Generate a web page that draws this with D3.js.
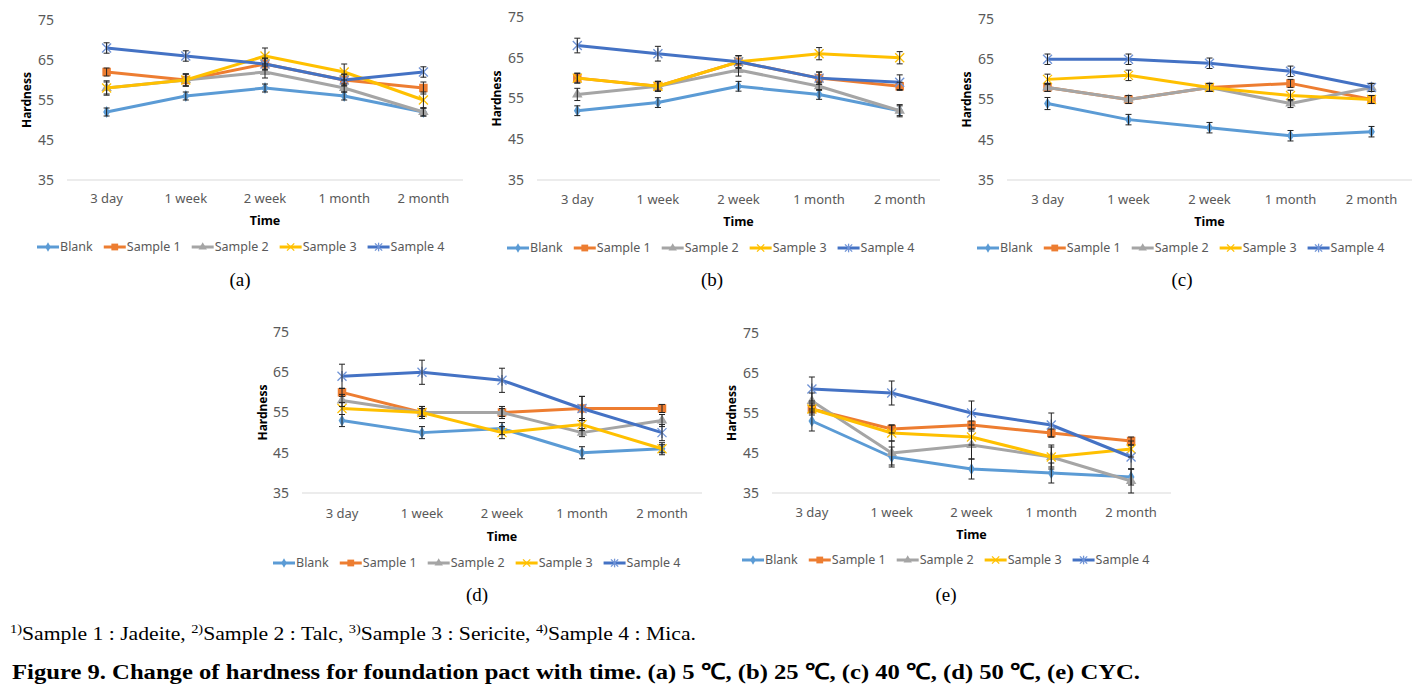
<!DOCTYPE html>
<html><head><meta charset="utf-8">
<script src="https://cdn.jsdelivr.net/npm/d3@7"></script>
<style>body{margin:0;background:#fff}svg{display:block}</style>
</head><body>
<svg id="chart" width="1415" height="690"></svg>
<script>
// ---------- DATA ----------
const categories = ["3 day", "1 week", "2 week", "1 month", "2 month"];
const seriesNames = ["Blank", "Sample 1", "Sample 2", "Sample 3", "Sample 4"];
const yTicks = [35, 45, 55, 65, 75];
const panelLabels = ["(a)", "(b)", "(c)", "(d)", "(e)"];

// (a) 5 ℃
const valuesA = [[52,56,58,56,52],[62,60,64,60,58],[58,60,62,58,52],[58,60,66,62,55],[68,66,64,60,62]];
const errorsA = [[1,1,1,1,1],[1,1.5,1.5,1.5,1.5],[1.5,1.5,1.5,1,1],[1.8,1.5,2,2,2],[1.3,1.3,1.3,1.3,1.3]];
// (b) 25 ℃
const valuesB = [[52,54,58,56,52],[60,58,64,60,58],[56,58,62,58,52],[60,58,64,66,65],[68,66,64,60,59]];
const errorsB = [[1.2,1.2,1.2,1.2,1.2],[1.2,1.2,1.5,1.5,1],[1.5,1.2,1.5,1,1.5],[1.2,1.2,1.5,1.5,1.5],[1.8,1.8,1.5,1.5,1.8]];
// (c) 40 ℃
const valuesC = [[54,50,48,46,47],[58,55,58,59,55],[58,55,58,54,58],[60,61,58,56,55],[65,65,64,62,58]];
const errorsC = [[1.5,1.3,1.3,1.3,1.3],[1,1,1,1,1],[1,1,1,1,1],[1.3,1.3,1,1.3,1],[1.3,1.3,1.3,1.3,1]];
// (d) 50 ℃
const valuesD = [[53,50,51,45,46],[60,55,55,56,56],[58,55,55,50,53],[56,55,50,52,46],[64,65,63,56,50]];
const errorsD = [[1.5,1.5,1.5,1.5,1.5],[1,1,1,3,1],[1.5,1.5,1.5,1,1.5],[1.5,1.5,1.5,1.5,1],[3,3,3,3,2]];
// (e) CYC
const valuesE = [[53,44,41,40,39],[56,51,52,50,48],[58,45,47,44,38],[56,50,49,44,46],[61,60,55,52,44]];
const errorsE = [[2.5,2.5,2.5,2.5,2],[1,1,1,1,1],[2,3,3.5,3,3],[1.5,2,2,2.5,2],[3,3,3,3,3]];

const footnoteParts = [["1)","Sample 1 : Jadeite, "],["2)","Sample 2 : Talc, "],["3)","Sample 3 : Sericite, "],["4)","Sample 4 : Mica."]];
const titleText = "Figure 9. Change of hardness for foundation pact with time. (a) 5 ℃, (b) 25 ℃, (c) 40 ℃, (d) 50 ℃, (e) CYC.";

// ---------- STYLE / LAYOUT ----------
const colors = ["#5B9BD5", "#ED7D31", "#A5A5A5", "#FFC000", "#4472C4"];
const markerTypes = ["diamond", "square", "triangle", "x", "star"];
const FONT = "'Noto Sans', 'Open Sans', sans-serif";
const SERIF = "'Liberation Serif', 'Times New Roman', Times, serif";

const panels = [
  {vals: valuesA, errs: errorsA, x0: 67,  x1: 463,  yT: 20,  yB: 180, ylabX: 27,  catY: 203, timeY: 225, legY: 247, legX: 37,  labX: 240, labY: 286},
  {vals: valuesB, errs: errorsB, x0: 537, x1: 940,  yT: 17,  yB: 180, ylabX: 497, catY: 204, timeY: 226, legY: 248, legX: 507, labX: 712, labY: 286},
  {vals: valuesC, errs: errorsC, x0: 1007,x1: 1412, yT: 19,  yB: 180, ylabX: 967, catY: 204, timeY: 226, legY: 248, legX: 977, labX: 1182,labY: 286},
  {vals: valuesD, errs: errorsD, x0: 302, x1: 702,  yT: 332, yB: 493, ylabX: 263, catY: 518, timeY: 541, legY: 563, legX: 273, labX: 477, labY: 601},
  {vals: valuesE, errs: errorsE, x0: 772, x1: 1171, yT: 333, yB: 493, ylabX: 732, catY: 517, timeY: 539, legY: 560, legX: 742, labX: 946, labY: 601}
];

const svg = d3.select("#chart");

function drawMarker(g, type, color, x, y, s) {
  if (type === "diamond") {
    g.append("path").attr("d", d3.symbol(d3.symbolDiamond, 40 * s * s)()).attr("transform", `translate(${x},${y})`).attr("fill", color);
  } else if (type === "square") {
    g.append("path").attr("d", d3.symbol(d3.symbolSquare, 72 * s * s)()).attr("transform", `translate(${x},${y})`).attr("fill", color);
  } else if (type === "triangle") {
    g.append("path").attr("d", d3.symbol(d3.symbolTriangle, 48 * s * s)()).attr("transform", `translate(${x},${y})`).attr("fill", color);
  } else if (type === "x" || type === "star") {
    const r = 4.5 * s;
    const pts = [[-r,-r,r,r],[-r,r,r,-r]];
    if (type === "star") pts.push([0,-r*1.2,0,r*1.2]);
    pts.forEach(p => g.append("line").attr("x1", x+p[0]).attr("y1", y+p[1]).attr("x2", x+p[2]).attr("y2", y+p[3])
      .attr("stroke", type === "star" ? "#6f93d6" : color).attr("stroke-width", 1.3));
  }
}

panels.forEach((p, pi) => {
  const g = svg.append("g");
  const x = d3.scalePoint().domain(categories).range([p.x0, p.x1]).padding(0.5);
  const y = d3.scaleLinear().domain([35, 75]).range([p.yB, p.yT]);

  // baseline
  g.append("line").attr("x1", p.x0).attr("x2", p.x1).attr("y1", y(35)).attr("y2", y(35))
    .attr("stroke", "#d9d9d9").attr("stroke-width", 1);

  // y tick labels
  g.selectAll(".yt").data(yTicks).join("text")
    .attr("x", p.x0 - 13).attr("y", d => y(d)).attr("dy", "0.35em")
    .attr("text-anchor", "end").attr("font-family", FONT).attr("font-size", 14).attr("fill", "#595959")
    .text(d => d);

  // category labels
  g.selectAll(".xt").data(categories).join("text")
    .attr("x", d => x(d)).attr("y", p.catY).attr("text-anchor", "middle")
    .attr("font-family", FONT).attr("font-size", 13).attr("fill", "#595959").text(d => d);

  // axis titles
  g.append("text").attr("transform", `translate(${p.ylabX},${(p.yT + p.yB) / 2}) rotate(-90)`)
    .attr("text-anchor", "middle").attr("dy", "0.35em").attr("font-family", FONT).attr("font-weight", "bold")
    .attr("font-size", 12).attr("fill", "#000").text("Hardness");
  g.append("text").attr("x", (p.x0 + p.x1) / 2).attr("y", p.timeY).attr("text-anchor", "middle")
    .attr("font-family", FONT).attr("font-weight", "bold").attr("font-size", 12.5).attr("fill", "#000").text("Time");

  // lines
  const line = d3.line().x((d, i) => x(categories[i])).y(d => y(d));
  p.vals.forEach((vals, si) => {
    g.append("path").attr("d", line(vals)).attr("fill", "none").attr("stroke", colors[si])
      .attr("stroke-width", 3).attr("stroke-linejoin", "round");
    vals.forEach((v, i) => drawMarker(g, markerTypes[si], colors[si], x(categories[i]), y(v), 1));
  });

  // error bars
  p.vals.forEach((vals, si) => {
    vals.forEach((v, i) => {
      const e = p.errs[si][i];
      const cx = x(categories[i]);
      const yt = y(v + e), yb = y(v - e);
      g.append("line").attr("x1", cx).attr("x2", cx).attr("y1", yt).attr("y2", yb).attr("stroke", "#222").attr("stroke-width", 1);
      [yt, yb].forEach(yy => g.append("line").attr("x1", cx - 3).attr("x2", cx + 3).attr("y1", yy).attr("y2", yy)
        .attr("stroke", "#222").attr("stroke-width", 1));
    });
  });

  // legend
  let lx = p.legX;
  seriesNames.forEach((name, si) => {
    g.append("line").attr("x1", lx).attr("x2", lx + 22).attr("y1", p.legY).attr("y2", p.legY)
      .attr("stroke", colors[si]).attr("stroke-width", 3);
    drawMarker(g, markerTypes[si], colors[si], lx + 11, p.legY, 0.8);
    const t = g.append("text").attr("x", lx + 23).attr("y", p.legY).attr("dy", "0.35em")
      .attr("font-family", FONT).attr("font-size", 12.5).attr("fill", "#595959").text(name);
    lx += 23 + t.node().getComputedTextLength() + 11;
  });

  // panel label
  g.append("text").attr("x", p.labX).attr("y", p.labY).attr("text-anchor", "middle")
    .attr("font-family", SERIF).attr("font-size", 19).attr("fill", "#000")
    .text(panelLabels[pi]);
});

// footnote
const fn = svg.append("text").attr("x", 10).attr("y", 640)
  .attr("font-family", SERIF).attr("font-size", 18).attr("fill", "#000")
  .attr("textLength", 686).attr("lengthAdjust", "spacingAndGlyphs");
footnoteParts.forEach(([sup, txt]) => {
  fn.append("tspan").attr("font-size", 12).attr("dy", -7).text(sup);
  fn.append("tspan").attr("dy", 7).text(txt);
});

// title
svg.append("text").attr("x", 12).attr("y", 679)
  .attr("font-family", SERIF).attr("font-weight", "bold").attr("font-size", 22).attr("fill", "#000")
  .attr("textLength", 1128).attr("lengthAdjust", "spacingAndGlyphs").text(titleText);
</script>
</body></html>
